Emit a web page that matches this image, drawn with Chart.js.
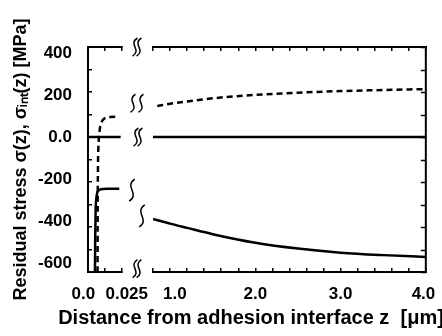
<!DOCTYPE html>
<html>
<head>
<meta charset="utf-8">
<script src="https://cdn.jsdelivr.net/npm/chart.js@4"></script>
<style>
  body { margin: 0; background: #fff; overflow: hidden; }
  #wrap { position: relative; width: 442px; height: 336px; overflow: hidden; }
  #near-box { position: absolute; left: 0; top: 0; width: 165px; height: 336px; }
  #far-box { position: absolute; left: 46px; top: 0; width: 410px; height: 336px; }
</style>
</head>
<body>
<div id="wrap">
  <div id="near-box"><canvas id="near-chart"></canvas></div>
  <div id="far-box"><canvas id="far-chart"></canvas></div>
</div>
<script>
// close to the interface, z in um
const nearZSigma = [0.0051, 0.0053, 0.0056, 0.0060, 0.0066, 0.0074, 0.0088, 0.0110, 0.0140, 0.0230];
const nearSigma = [-600, -450, -330, -280, -252, -240, -234, -231, -230, -230];
const nearZSigmaInt = [0.0070, 0.0071, 0.0073, 0.0076, 0.0081, 0.0088, 0.0103, 0.0125, 0.0162, 0.0230];
const nearSigmaInt = [-600, -350, -150, -50, 0, 40, 70, 84, 89, 90];
const nearZZero = [0, 0.024];

// far from the interface
const farZSigma = [0.8, 1.0, 1.2, 1.5, 2.0, 2.5, 3.0, 3.5, 4.0];
const farSigma = [-364, -385, -404, -432, -470, -496, -514, -525, -533];
const farZSigmaInt = [0.85, 1.0, 1.2, 1.5, 2.0, 2.5, 3.0, 3.5, 4.0];
const farSigmaInt = [138, 148, 158, 172, 187, 197, 204, 209, 213];
const farZZero = [0.8, 4.0];

const yMin = -600, yMax = 400;
// the printed stress labels sit a little closer together than the ticks
const yLabelMin = -643, yLabelMax = 429;

// axis break marks, drawn left of the far panel
const breakMarks = [
    { y: 400, dx: -16, double: true, gap: 4 },
    { y: 150, dx: -16, double: true, gap: 8 },
    { y: 0, dx: -15, double: true, gap: 4 },
    { y: -585, dx: -16, double: true, gap: 4 },
    { y: -236, dx: -21, double: false },
    { y: -351, dx: -11, double: false }
];

Chart.defaults.font.family = "'Liberation Sans', Arial, sans-serif";
Chart.defaults.font.weight = 'bold';
Chart.defaults.color = '#000';

const pts = (xs, ys) => xs.map((x, i) => ({ x: x, y: ys[i] }));

const solid = {
    borderColor: '#000', borderWidth: 2.5, pointRadius: 0, cubicInterpolationMode: 'monotone', fill: false,
    xAxisID: 'x', yAxisID: 'y'
};
const dashed = Object.assign({}, solid, { borderDash: [6, 4] });

const gridOpts = { drawOnChartArea: false, tickLength: -4, color: '#000', lineWidth: 1.5 };
const borderOpts = { color: '#000', width: 2 };
const tickFont = { size: 17, weight: 'bold' };

new Chart(document.getElementById('near-chart'), {
    type: 'line',
    data: {
        datasets: [
            Object.assign({ data: pts(nearZSigma, nearSigma) }, solid),
            Object.assign({ data: pts(nearZSigmaInt, nearSigmaInt) }, dashed),
            Object.assign({ data: pts(nearZZero, [0, 0]) }, solid)
        ]
    },
    options: {
        responsive: true,
        maintainAspectRatio: false,
        animation: false,
        layout: { padding: { top: 47, right: 43, bottom: 0, left: 0 } },
        plugins: { legend: { display: false }, tooltip: { enabled: false } },
        scales: {
            x: {
                type: 'linear', min: 0, max: 0.025,
                afterFit: s => { s.height = 64; },
                grid: gridOpts, border: borderOpts,
                ticks: {
                    stepSize: 0.0125, padding: 16, maxRotation: 0, minRotation: 0, autoSkip: false, font: tickFont,
                    callback: v => v === 0 ? '0.0  ' : (v === 0.025 ? '  0.025' : '')
                }
            },
            xTop: {
                type: 'linear', position: 'top', min: 0, max: 0.025,
                afterFit: s => { s.height = 0; },
                grid: gridOpts, border: borderOpts,
                ticks: { display: false, stepSize: 0.0125 }
            },
            y: {
                position: 'left', weight: 0, min: yMin, max: yMax,
                afterFit: s => { s.width = 0; },
                grid: gridOpts, border: borderOpts,
                ticks: { display: false, stepSize: 100 }
            },
            yLabels: {
                type: 'linear', position: 'left', weight: 1, min: yLabelMin, max: yLabelMax,
                afterFit: s => { s.width = 88; },
                grid: { display: false }, border: { display: false },
                ticks: {
                    stepSize: 200, includeBounds: false, padding: 8, font: tickFont,
                    callback: v => v % 200 !== 0 ? '' : (v === 0 ? '0.0' : String(v))
                },
                title: {
                    display: true,
                    text: 'Residual stress σ(z), σᵢₙₜ(z) [MPa]',
                    font: { size: 18, weight: 'bold' },
                    padding: { top: 10, bottom: 0 }
                }
            }
        }
    }
});

function squiggle(ctx, x, y, h, w) {
    ctx.beginPath();
    ctx.moveTo(x + w * 0.4, y - h / 2);
    ctx.bezierCurveTo(x - w * 1.2, y - h / 6, x + w * 1.2, y + h / 6, x - w * 0.4, y + h / 2);
    ctx.stroke();
}

// break marks plus the right-hand frame of the far panel
const breakPlugin = {
    id: 'breaks',
    afterDraw(chart) {
        const ctx = chart.ctx;
        const area = chart.chartArea;
        const ys = chart.scales.y;
        ctx.save();
        ctx.strokeStyle = '#000';
        ctx.lineWidth = 1.5;
        breakMarks.forEach(b => {
            const x = area.left + b.dx;
            const y = ys.getPixelForValue(b.y);
            if (b.double) {
                squiggle(ctx, x - b.gap / 2, y, 18, 6);
                squiggle(ctx, x + b.gap / 2, y, 18, 6);
            } else {
                squiggle(ctx, x, y, 22, 7);
            }
        });
        ys.ticks.forEach(t => {
            const y = Math.round(ys.getPixelForValue(t.value)) + 0.5;
            ctx.beginPath();
            ctx.moveTo(area.right, y);
            ctx.lineTo(area.right - 5, y);
            ctx.stroke();
        });
        ctx.lineWidth = 2;
        ctx.beginPath();
        ctx.moveTo(area.right, area.top - 1);
        ctx.lineTo(area.right, area.bottom + 1);
        ctx.stroke();
        ctx.restore();
    }
};

new Chart(document.getElementById('far-chart'), {
    type: 'line',
    data: {
        datasets: [
            Object.assign({ data: pts(farZSigma, farSigma) }, solid),
            Object.assign({ data: pts(farZSigmaInt, farSigmaInt) }, dashed),
            Object.assign({ data: pts(farZZero, [0, 0]) }, solid)
        ]
    },
    options: {
        responsive: true,
        maintainAspectRatio: false,
        animation: false,
        layout: { padding: { top: 47, right: 0, bottom: 0, left: 0 } },
        plugins: {
            legend: { display: false },
            tooltip: { enabled: false },
            title: {
                display: true,
                position: 'bottom',
                text: 'Distance from adhesion interface z  [μm]',
                font: { size: 20, weight: 'bold' },
                padding: { top: 2, bottom: 6 }
            }
        },
        scales: {
            x: {
                type: 'linear', min: 0.8, max: 4.0,
                afterFit: s => { s.height = 32; },
                grid: gridOpts, border: borderOpts,
                ticks: {
                    stepSize: 0.2, padding: 16, maxRotation: 0, minRotation: 0, autoSkip: false, font: tickFont,
                    callback: v => v === 1 ? '  1.0' : (v === 4 ? '4.0 ' : (Number.isInteger(v) ? v.toFixed(1) : ''))
                }
            },
            xTop: {
                type: 'linear', position: 'top', min: 0.8, max: 4.0,
                afterFit: s => { s.height = 0; },
                grid: gridOpts, border: borderOpts,
                ticks: { display: false, stepSize: 0.2 }
            },
            y: {
                position: 'right', weight: 0, min: yMin, max: yMax,
                afterFit: s => { s.width = 0; },
                grid: { display: false }, border: { display: false },
                ticks: { display: false, stepSize: 100 }
            },
            // empty space on both sides of the far panel, keeps the x title centred like the original
            yPad: {
                type: 'linear', position: 'left',
                afterFit: s => { s.width = 107; },
                grid: { display: false }, border: { display: false },
                ticks: { display: false }
            },
            yPadRight: {
                type: 'linear', position: 'right', weight: 5,
                afterFit: s => { s.width = 28; },
                grid: { display: false }, border: { display: false },
                ticks: { display: false }
            }
        }
    },
    plugins: [breakPlugin]
});
</script>
</body>
</html>
